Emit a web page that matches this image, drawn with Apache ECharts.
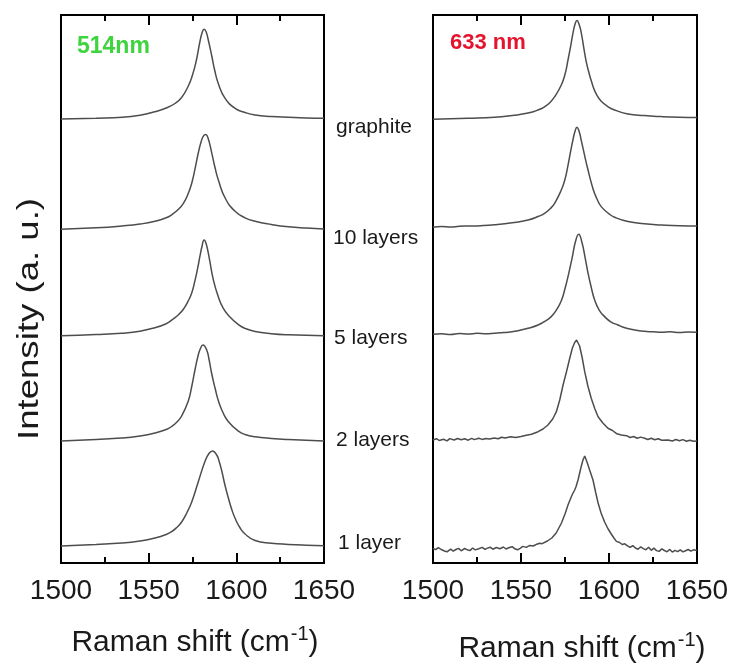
<!DOCTYPE html>
<html><head><meta charset="utf-8">
<script src="https://cdn.jsdelivr.net/npm/echarts@6/dist/echarts.min.js"></script>
<style>html,body{margin:0;padding:0;background:#fff}#c{width:735px;height:666px}</style>
</head><body><div id="c"></div>
<script>
// ---- data ----
const samples = ['graphite', '10 layers', '5 layers', '2 layers', '1 layer'];
const xTickLabels = [1500, 1550, 1600, 1650];
const laserLabels = ['514nm', '633 nm'];
// baseline offsets of stacked spectra (a.u.)
const offsets514 = [444, 333.7, 227.3, 122, 17];
const offsets633 = [443.7, 335.7, 228.7, 123, 13];

// 514 nm spectra: [Raman shift, intensity above baseline]
const graphite514 = [[1500,0],[1520,0.8],[1535,1.7],[1545,3.8],[1553.6,7.3],[1560,11],[1565,15.5],[1568.8,21.5],[1572.6,33],[1575,44],[1577,57],[1579.3,78],[1580.6,87],[1581.6,89.7],[1582.8,87],[1584,79],[1586,63],[1587.5,50],[1589.8,35],[1593.6,20.7],[1599.3,10.7],[1605,6.5],[1610.7,4],[1620,2.5],[1629.7,1.7],[1640,1],[1650,0.7]];
const layers10_514 = [[1500,0],[1520,1.5],[1534.6,3.3],[1545,5.2],[1553.6,8],[1560,11.5],[1563.1,14.5],[1567,20],[1569.8,26],[1572.5,35.5],[1574.6,46.3],[1576.5,61],[1578.3,76.3],[1580,88],[1581.3,93.5],[1582.5,94.7],[1583.8,91.5],[1585.9,77],[1587.8,62],[1589.8,49],[1593.6,31.3],[1599.3,18],[1605,11.5],[1610.7,8],[1620,4.8],[1629.7,2.5],[1640,1.2],[1650,0.3]];
const layers5_514 = [[1500,0],[1520,1.2],[1534.6,2.5],[1545,4.5],[1553.6,8],[1560,12],[1563.1,15.5],[1567,21],[1569.8,26.5],[1572.5,34.5],[1574.6,43],[1576.4,55],[1578,68],[1579.3,80],[1580.5,90],[1581.6,95.7],[1582.8,92],[1584.5,78],[1587,55],[1589.8,38.5],[1592.5,27.5],[1595.5,20.3],[1601.2,11],[1605,7.3],[1610.7,4.2],[1620,2],[1629.7,0.9],[1650,0]];
const layers2_514 = [[1500,0],[1520,1.5],[1534.6,2.9],[1545,5],[1553.6,8],[1560,11.5],[1563.1,14.5],[1566,18.8],[1568.8,25],[1572.6,40],[1574.5,54],[1576.4,71],[1578,84],[1579.3,91.5],[1581,96],[1583.1,91],[1584.5,81],[1586,67],[1588,52],[1589.8,40],[1592.5,28],[1595.5,19.3],[1601.2,9.8],[1605,6.5],[1610.7,4.3],[1620,2.6],[1629.7,1.5],[1650,0]];
const layer1_514 = [[1500,0],[1520,1.5],[1534.6,2.9],[1545,5],[1553.6,8],[1560,11.5],[1563.1,14.3],[1566,18.5],[1568.8,24],[1572,34],[1574.6,44.3],[1578.3,64.3],[1582.2,85],[1584.5,92.7],[1586.4,95],[1588.8,91],[1590.3,84],[1591.7,75],[1593.5,61],[1595.5,47.7],[1597.5,36],[1599.3,27.7],[1602,18.5],[1605,12],[1610.7,5.5],[1620,2.8],[1629.7,1.6],[1640,0.8],[1650,0.3]];

// 633 nm spectra
const graphite633 = [[1500,0],[1520,1],[1535,2],[1545,3.8],[1554,6.2],[1560,9.5],[1563.4,12.5],[1566.5,16.8],[1569.1,22.5],[1572.9,34.3],[1575,45],[1576.7,59.3],[1578.2,73],[1579.5,86],[1580.7,95],[1581.8,98.7],[1583,95],[1584.3,86],[1586,68],[1587.7,52.7],[1590.9,33],[1593,24.5],[1595.6,18],[1600,12],[1603.2,9.3],[1610.8,5.3],[1620,3.7],[1629.7,2.7],[1640,2],[1650,1.7]];
const layers10_633 = [[1500,0],[1505,0.8],[1510,0.2],[1515,1.1],[1520,1.3],[1527,1.6],[1535,2.5],[1545,4.5],[1554,7.3],[1560,11],[1563.4,14],[1566.5,18.5],[1569.1,24],[1572.9,37.3],[1575,48],[1576.7,62],[1578.2,76],[1579.5,87.3],[1580.7,96],[1581.8,100],[1583,96],[1584.3,86.5],[1586,73],[1587.7,60],[1590.9,38.5],[1593,29],[1595.6,20.7],[1600,13.5],[1603.2,10],[1610.8,5.7],[1620,3.5],[1629.7,2.3],[1640,1.5],[1650,1.3]];
const layers5_633 = [[1500,0],[1505,0.5],[1510,-0.3],[1515,0.7],[1520,0.2],[1525,1],[1530,0.5],[1535,1],[1540,1.7],[1544,2.3],[1548.3,3.5],[1554,6],[1559.7,9.3],[1564,13.5],[1567.2,17.7],[1570,24],[1572.9,33.5],[1575.2,47],[1577,60],[1579,76],[1581,93],[1582.8,100],[1584.6,92],[1586.5,76],[1588,62],[1589.6,49.3],[1591.9,34],[1594.5,24],[1597.5,17.7],[1601,12.5],[1605.1,9.3],[1609,6.5],[1614.6,4.3],[1620,3],[1625,2.5],[1629.7,2],[1635,2.5],[1640,1.7],[1645,2.3],[1650,2]];
const layers2_633 = [[1500,0],[1502,1.3],[1503.5,-0.5],[1506,0.8],[1508,-0.9],[1509.5,1.4],[1512,0],[1514,1.5],[1516,0.3],[1518,1.2],[1520,-0.2],[1522,1.6],[1523.5,0.4],[1526,1.8],[1528,0.6],[1530,1.5],[1532,0.9],[1535,2],[1537,1.2],[1539,2.8],[1541,1.9],[1544,3.2],[1547,2.4],[1550,3.5],[1553,4.8],[1556,5.8],[1559.7,8.3],[1562.5,11],[1565.3,15],[1568,21],[1570.1,28.3],[1572,40],[1573.9,55],[1575.8,68],[1577.7,81.7],[1579.2,92],[1580.5,97.5],[1581.6,100],[1582.5,98],[1583.3,94],[1584.8,82],[1586.2,68.3],[1588,54],[1589.9,41.7],[1592,31],[1593.8,23.3],[1596.5,17],[1599.4,11.7],[1602,9.5],[1604.5,6.2],[1607,5],[1610,4.3],[1612,2.5],[1614,3.5],[1616,1.8],[1618,2.9],[1620.3,1.7],[1622,0.5],[1624,1.8],[1626,0.3],[1628,1.2],[1630,-0.3],[1633.5,0],[1636,-1],[1638,0.5],[1640,-0.8],[1642,0.4],[1644,-1.2],[1646,-0.2],[1648,-1.3],[1650,-1]];
const layer1_633 = [[1500,1.7],[1501.5,0.3],[1503,2.4],[1505,0.2],[1506.5,-1],[1508,-1.8],[1510,0.8],[1511.5,-1.2],[1513,0.5],[1514.5,1.6],[1516,-0.8],[1518,1.5],[1519.5,0.2],[1521,-0.6],[1522.5,2],[1524,0.1],[1526,1.2],[1528,2.6],[1529.5,0.6],[1531,1.9],[1532.5,2.8],[1534,0.8],[1536,2.5],[1538,1.3],[1540,3],[1541.5,1],[1543,2.2],[1545,3.3],[1546.5,1.2],[1548,0.2],[1549.5,1.7],[1551,3.6],[1553,2.6],[1555,4.6],[1557,4],[1559,5.8],[1560.5,6.8],[1562,6.3],[1565,9],[1567.5,12],[1570,17],[1573,27],[1575,36],[1576.7,45],[1579,55],[1580.5,60],[1581.2,63],[1582.4,70],[1584,82],[1585.2,90],[1586.2,94],[1587.5,88],[1589,80],[1590.9,70],[1592.5,57],[1593.8,47],[1595.5,37],[1597.5,28],[1599.5,21],[1601.3,16],[1603,11.5],[1604.2,8.6],[1606,7.5],[1607.5,5.5],[1609,6.2],[1610.5,4.2],[1612,2.6],[1613.5,4.4],[1615,2],[1616.5,0.8],[1618,3.2],[1619.5,1.4],[1621,0.2],[1622.5,2.7],[1624,-0.3],[1625.5,1.9],[1627,-0.6],[1628.5,-1.4],[1630,1.2],[1631.5,-0.5],[1633,-1.8],[1634.5,0.6],[1636,-2.1],[1637.5,-0.4],[1639,-1.6],[1640.5,0.2],[1642,-1.9],[1643.5,-0.7],[1645,0.5],[1646.5,-1.2],[1648,0.2],[1650,-0.4]];

const spectra514 = [graphite514, layers10_514, layers5_514, layers2_514, layer1_514];
const spectra633 = [graphite633, layers10_633, layers5_633, layers2_633, layer1_633];
const smooth633 = [true, true, true, false, false];

// ---- chart ----
const FONT = '"Liberation Sans", Arial, Helvetica, sans-serif';
const chart = echarts.init(document.getElementById('c'), null, {renderer: 'canvas'});

const grids = [
  {left: 61, top: 15, width: 263, height: 548},
  {left: 433, top: 15, width: 264, height: 548}
].map(g => Object.assign(g, {show: true, borderColor: '#000', borderWidth: 2, backgroundColor: 'transparent', containLabel: false}));

function xAx(gi, pos) {
  return {
    type: 'value', gridIndex: gi, position: pos, min: 1500, max: 1650, interval: 50,
    axisLine: {show: false},
    axisTick: {show: true, inside: true, length: 10, lineStyle: {color: '#000', width: 2}},
    minorTick: {show: true, splitNumber: 2, length: 6, lineStyle: {color: '#000', width: 2}},
    splitLine: {show: false}, minorSplitLine: {show: false},
    axisLabel: {
      show: pos === 'bottom', fontSize: 28, color: '#1a1a1a', fontFamily: FONT, margin: 14,
      showMinLabel: true, showMaxLabel: true, hideOverlap: false,
      formatter: v => xTickLabels.includes(v) ? String(v) : ''
    }
  };
}
const xAxis = [xAx(0, 'bottom'), xAx(0, 'top'), xAx(1, 'bottom'), xAx(1, 'top')];
const yAxis = [0, 1].map(gi => ({type: 'value', gridIndex: gi, min: 0, max: 548, show: false}));

const series = [];
const lineStyle = {color: '#4d4d4d', width: 1.5};
spectra514.forEach((s, i) => series.push({
  type: 'line', name: samples[i] + ' 514', xAxisIndex: 0, yAxisIndex: 0, showSymbol: false,
  smooth: 0.5, lineStyle, silent: true, animation: false,
  data: s.map(([x, h]) => [x, offsets514[i] + h])
}));
spectra633.forEach((s, i) => series.push({
  type: 'line', name: samples[i] + ' 633', xAxisIndex: 2, yAxisIndex: 1, showSymbol: false,
  smooth: smooth633[i] ? 0.5 : false, lineStyle, silent: true, animation: false,
  data: s.map(([x, h]) => [x, offsets633[i] + h])
}));

const labelY = [127, 238, 338, 440, 543];
const labelX = [336, 333, 334, 336, 338];
const graphic = [];
samples.forEach((s, i) => graphic.push({
  type: 'text', x: labelX[i], y: labelY[i],
  style: {text: s, fill: '#1a1a1a', font: '21px ' + FONT, align: 'left', verticalAlign: 'middle'}
}));
graphic.push({type: 'text', x: 77, y: 47, style: {text: laserLabels[0], fill: '#3dd43d', font: 'bold 23px ' + FONT, align: 'left', verticalAlign: 'middle'}});
graphic.push({type: 'text', x: 450, y: 43, style: {text: laserLabels[1], fill: '#e3142c', font: 'bold 22px ' + FONT, align: 'left', verticalAlign: 'middle'}});

function ramanTitle(cx, cy) {
  return {
    type: 'text', x: cx, y: cy,
    style: {
      text: '{m|Raman shift (cm}{s|-1}{m|)}', align: 'center', verticalAlign: 'middle',
      rich: {
        m: {fontSize: 30, fontFamily: FONT, fill: '#1a1a1a', lineHeight: 34, verticalAlign: 'bottom'},
        s: {fontSize: 20, fontFamily: FONT, fill: '#1a1a1a', lineHeight: 34, verticalAlign: 'top', padding: [0, 0, 0, 1]}
      }
    }
  };
}
graphic.push(ramanTitle(195, 641));
graphic.push(ramanTitle(582, 647));
graphic.push({
  type: 'text', x: 30, y: 319, rotation: Math.PI / 2, scaleX: 1.22,
  style: {text: 'Intensity (a. u.)', fill: '#1a1a1a', font: '30px ' + FONT, align: 'center', verticalAlign: 'middle'}
});

chart.setOption({
  backgroundColor: '#fff',
  animation: false,
  grid: grids,
  xAxis, yAxis, series, graphic
});
</script></body></html>
